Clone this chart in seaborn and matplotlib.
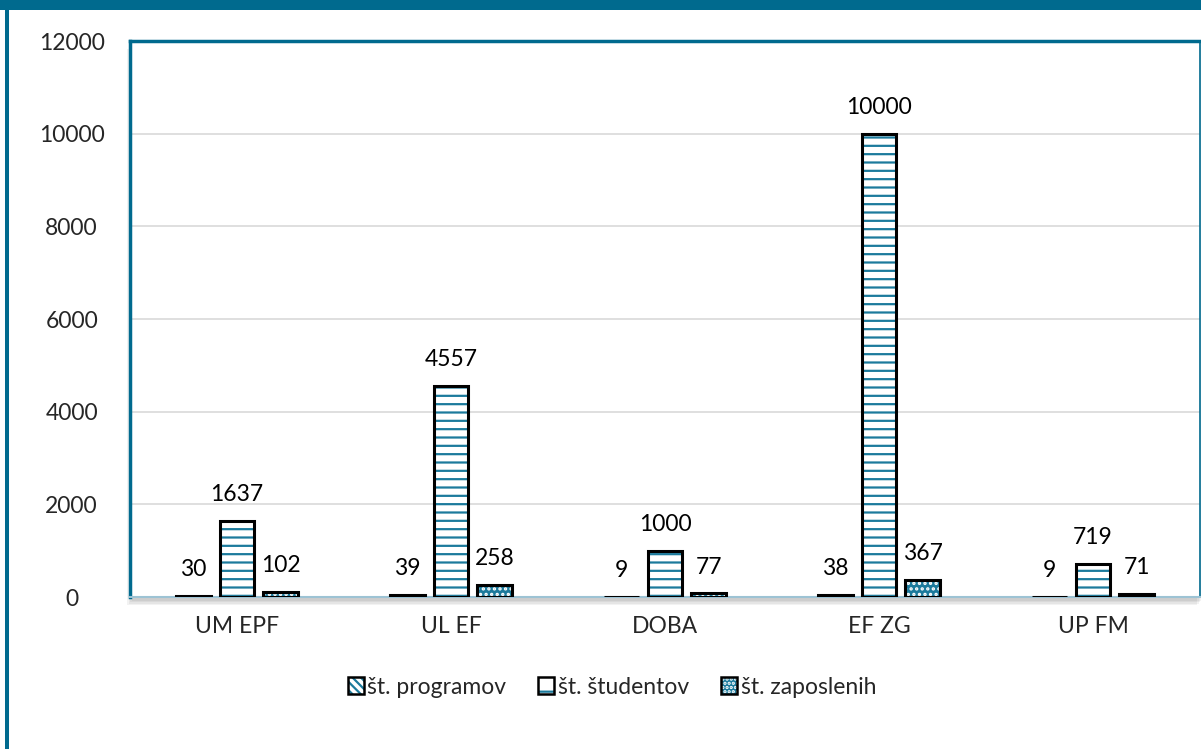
import numpy as np
import pandas as pd
import matplotlib
matplotlib.use("Agg")
import matplotlib.pyplot as plt
from matplotlib.patches import Rectangle, Patch
from matplotlib.legend_handler import HandlerTuple
import seaborn as sns

# Data
institutions = ["UM EPF", "UL EF", "DOBA", "EF ZG", "UP FM"]
series = ["št. programov", "št. študentov", "št. zaposlenih"]
programs = [30, 39, 9, 38, 9]
students = [1637, 4557, 1000, 10000, 719]
employees = [102, 258, 77, 367, 71]
y_ticks = [0, 2000, 4000, 6000, 8000, 10000, 12000]

TEAL = "#006A8E"
HATCH_TEAL = "#1B7A9C"
FS = 16.5

df = pd.DataFrame({
    "inst": np.repeat(institutions, 3),
    "serija": series * len(institutions),
    "value": np.ravel(np.column_stack([programs, students, employees])),
})

sns.set_theme(style="white")
plt.rcParams["font.family"] = ["Lato", "DejaVu Sans"]
plt.rcParams["hatch.linewidth"] = 1.6

fig = plt.figure(figsize=(12.01, 7.49), dpi=100)
ax = fig.add_axes([130 / 1201, 1 - 597 / 749, 1070 / 1201, 556 / 749])
ax.set_zorder(2)

sns.barplot(data=df, x="inst", y="value", hue="serija", order=institutions,
            hue_order=series, width=0.61, gap=0.2, ax=ax, legend=False,
            linewidth=0)

# per series style: facecolor, hatch, hatch colour
styles = {
    "št. programov": ("white", "\\\\\\", HATCH_TEAL),
    "št. študentov": ("white", "--", HATCH_TEAL),
    "št. zaposlenih": (HATCH_TEAL, "...", "white"),
}

for cont, name in zip(ax.containers, series):
    fc, hatch, hc = styles[name]
    for bar, val in zip(cont.patches, cont.datavalues):
        bar.set_facecolor(fc)
        bar.set_hatch(hatch)
        bar.set_edgecolor(hc)
        bar.set_linewidth(0)
        ax.add_patch(Rectangle((bar.get_x(), 0), bar.get_width(), bar.get_height(),
                               fill=False, edgecolor="black", linewidth=2.2, zorder=3))
        ax.annotate(f"{int(val)}", (bar.get_x() + bar.get_width() / 2, val),
                    xytext=(0, 19), textcoords="offset points",
                    ha="center", va="center", fontsize=FS, color="black")

ax.set_ylim(0, 12000)
ax.set_xlim(-0.5, len(institutions) - 0.5)
ax.set_yticks(y_ticks)
ax.yaxis.grid(True, color="#D9D9D9", linewidth=1.2)
ax.set_axisbelow(True)
ax.set_xlabel("")
ax.set_ylabel("")
ax.tick_params(axis="y", labelsize=FS, pad=42, length=0)
ax.tick_params(axis="x", labelsize=FS, pad=14, length=0)
for lab in ax.get_yticklabels():
    lab.set_horizontalalignment("center")

ax.spines["left"].set_color(TEAL)
ax.spines["left"].set_linewidth(2.5)
ax.spines["top"].set_color(TEAL)
ax.spines["top"].set_linewidth(2.5)
ax.spines["right"].set_color(TEAL)
ax.spines["right"].set_linewidth(1.2)
ax.spines["bottom"].set_color("#9DC3D4")
ax.spines["bottom"].set_linewidth(1.5)
ax.set_facecolor("white")

# soft shadow behind the plot area
for i in range(4):
    off = (i + 1) * 1.5
    fig.patches.append(Rectangle(((130 - off + 3) / 1201, 1 - (597 + off + 2) / 749),
                                 1070 / 1201, 556 / 749, transform=fig.transFigure,
                                 facecolor="black", alpha=0.05, edgecolor="none",
                                 zorder=-1))

# outer frame: top band and left line
fig.patches.append(Rectangle((0, 1 - 10 / 749), 1, 10 / 749, transform=fig.transFigure,
                             facecolor=TEAL, edgecolor="none", zorder=5))
fig.patches.append(Rectangle((5 / 1201, 0), 4 / 1201, 1, transform=fig.transFigure,
                             facecolor=TEAL, edgecolor="none", zorder=5))

# legend with pattern + black outline
legend_hatch = {"št. programov": "\\\\\\\\", "št. študentov": "-", "št. zaposlenih": "...."}
handles = []
for name in series:
    fc, hatch, hc = styles[name]
    handles.append((Patch(facecolor=fc, hatch=legend_hatch[name], edgecolor=hc, linewidth=0),
                    Patch(facecolor="none", edgecolor="black", linewidth=1.8)))
fig.legend(handles, series, handler_map={tuple: HandlerTuple(ndivide=1, pad=0)},
           loc="center", bbox_to_anchor=(612 / 1201, 1 - 687 / 749), ncol=3,
           frameon=False, fontsize=FS, handlelength=0.7, handleheight=0.7,
           handletextpad=0.15, columnspacing=1.4)

fig.savefig("out.png", dpi=100)
